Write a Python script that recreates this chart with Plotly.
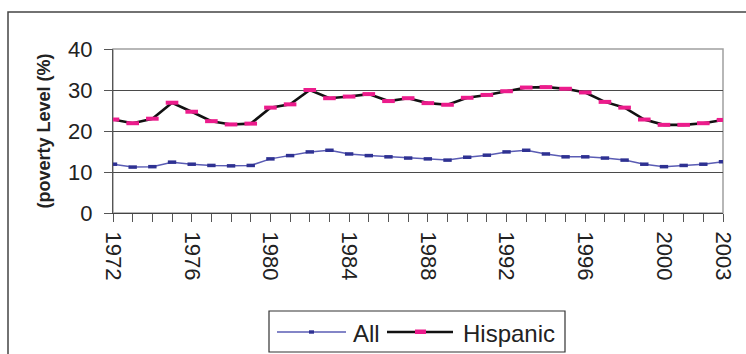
import plotly.graph_objects as go

# Poverty rate by year, in percent
years = list(range(1972, 2004))
all_persons = [11.9, 11.2, 11.3, 12.4, 11.9, 11.6, 11.5, 11.6, 13.2, 14.0, 14.9, 15.3,
               14.4, 14.0, 13.7, 13.4, 13.2, 12.9, 13.6, 14.1, 14.9, 15.3, 14.4, 13.7,
               13.7, 13.4, 12.9, 11.9, 11.3, 11.6, 11.9, 12.5]
hispanic = [22.8, 21.9, 23.0, 26.9, 24.7, 22.4, 21.6, 21.8, 25.7, 26.5, 30.0, 28.0,
            28.4, 29.0, 27.3, 28.0, 26.8, 26.4, 28.1, 28.8, 29.7, 30.6, 30.7, 30.3,
            29.4, 27.1, 25.7, 22.8, 21.5, 21.5, 21.9, 22.7]
series_names = ["All", "Hispanic"]
x_tick_years = [1972, 1976, 1980, 1984, 1988, 1992, 1996, 2000, 2003]
y_ticks = [0, 10, 20, 30, 40]

FONT = "Liberation Sans, Arial, sans-serif"
TEXT = "#222222"
ALL_LINE, ALL_MARK = "#5a5cb4", "#2e3192"
HIS_LINE, HIS_MARK = "#111111", "#ec1c8c"

W, H = 746, 354
ML, MR, MT, MB = 113, 23, 49, 141
PW, PH = W - ML - MR, H - MT - MB


def px(x):
    """Horizontal pixel -> paper coordinate."""
    return (x - ML) / PW


def py(y):
    """Vertical pixel (from top) -> paper coordinate."""
    return (H - MB - y) / PH


fig = go.Figure()
fig.add_trace(go.Scatter(
    x=years, y=all_persons, name=series_names[0], mode="lines+markers",
    line=dict(color=ALL_LINE, width=1.5),
    marker=dict(symbol="line-ew", size=6, color=ALL_MARK,
                line=dict(color=ALL_MARK, width=3.5)),
))
fig.add_trace(go.Scatter(
    x=years, y=hispanic, name=series_names[1], mode="lines+markers",
    line=dict(color=HIS_LINE, width=2.6),
    marker=dict(symbol="line-ew", size=9, color=HIS_MARK,
                line=dict(color=HIS_MARK, width=4)),
))

# Boxed legend below the axis
ly = 332
shapes = [
    # plot-area frame
    dict(type="rect", xref="paper", yref="paper", x0=0, x1=1, y0=0, y1=1,
         line=dict(color="#a0a0a0", width=1.5), layer="below"),
    # outer chart frame
    dict(type="rect", xref="paper", yref="paper", x0=px(8), x1=px(760),
         y0=py(370), y1=py(12), line=dict(color="#444444", width=1.5)),
    # legend box
    dict(type="rect", xref="paper", yref="paper", x0=px(269), x1=px(565),
         y0=py(352), y1=py(311), line=dict(color="#333333", width=1.2),
         fillcolor="white"),
    # legend samples
    dict(type="line", xref="paper", yref="paper", x0=px(277), x1=px(346),
         y0=py(ly), y1=py(ly), line=dict(color=ALL_LINE, width=1.5)),
    dict(type="rect", xref="paper", yref="paper", x0=px(309), x1=px(314),
         y0=py(ly + 1.7), y1=py(ly - 1.7), line=dict(width=0), fillcolor=ALL_MARK),
    dict(type="line", xref="paper", yref="paper", x0=px(387), x1=px(453),
         y0=py(ly), y1=py(ly), line=dict(color=HIS_LINE, width=2.6)),
    dict(type="rect", xref="paper", yref="paper", x0=px(415), x1=px(426),
         y0=py(ly + 2), y1=py(ly - 2.5), line=dict(width=0), fillcolor=HIS_MARK),
]
annotations = [
    dict(text=series_names[0], xref="paper", yref="paper", x=px(351), y=py(ly + 1.5),
         xanchor="left", yanchor="middle", showarrow=False,
         font=dict(size=24, family=FONT, color=TEXT)),
    dict(text=series_names[1], xref="paper", yref="paper", x=px(461), y=py(ly + 1.5),
         xanchor="left", yanchor="middle", showarrow=False,
         font=dict(size=24, family=FONT, color=TEXT)),
]

fig.update_layout(
    width=W, height=H,
    margin=dict(l=ML, r=MR, t=MT, b=MB, autoexpand=False),
    paper_bgcolor="white", plot_bgcolor="white",
    font=dict(family=FONT, color=TEXT),
    showlegend=False,
    xaxis=dict(
        range=[1972, 2003], tickvals=x_tick_years,
        ticktext=[str(y) for y in x_tick_years],
        tickangle=90, tickfont=dict(size=22, family=FONT, color=TEXT),
        ticks="outside", ticklen=8, tickcolor="#555555",
        minor=dict(dtick=1, tick0=1972, ticks="outside", ticklen=8, tickcolor="#555555"),
        showgrid=False, zeroline=False, automargin=False,
        showline=True, linecolor="#444444", linewidth=1.2,
        ticklabelstandoff=5,
    ),
    yaxis=dict(
        range=[0, 40], tickvals=y_ticks,
        tickfont=dict(size=22, family=FONT, color=TEXT),
        ticks="outside", ticklen=8, tickcolor="#555555",
        showgrid=True, gridcolor="#4a4a4a", gridwidth=1, automargin=False,
        zeroline=False, showline=True, linecolor="#555555", linewidth=1.2,
        ticklabelstandoff=7,
        title=dict(text="<b>(poverty Level (%)</b>", standoff=12,
                   font=dict(size=18, family=FONT, color=TEXT)),
    ),
    shapes=shapes,
    annotations=annotations,
)

fig.write_html("out.html")
